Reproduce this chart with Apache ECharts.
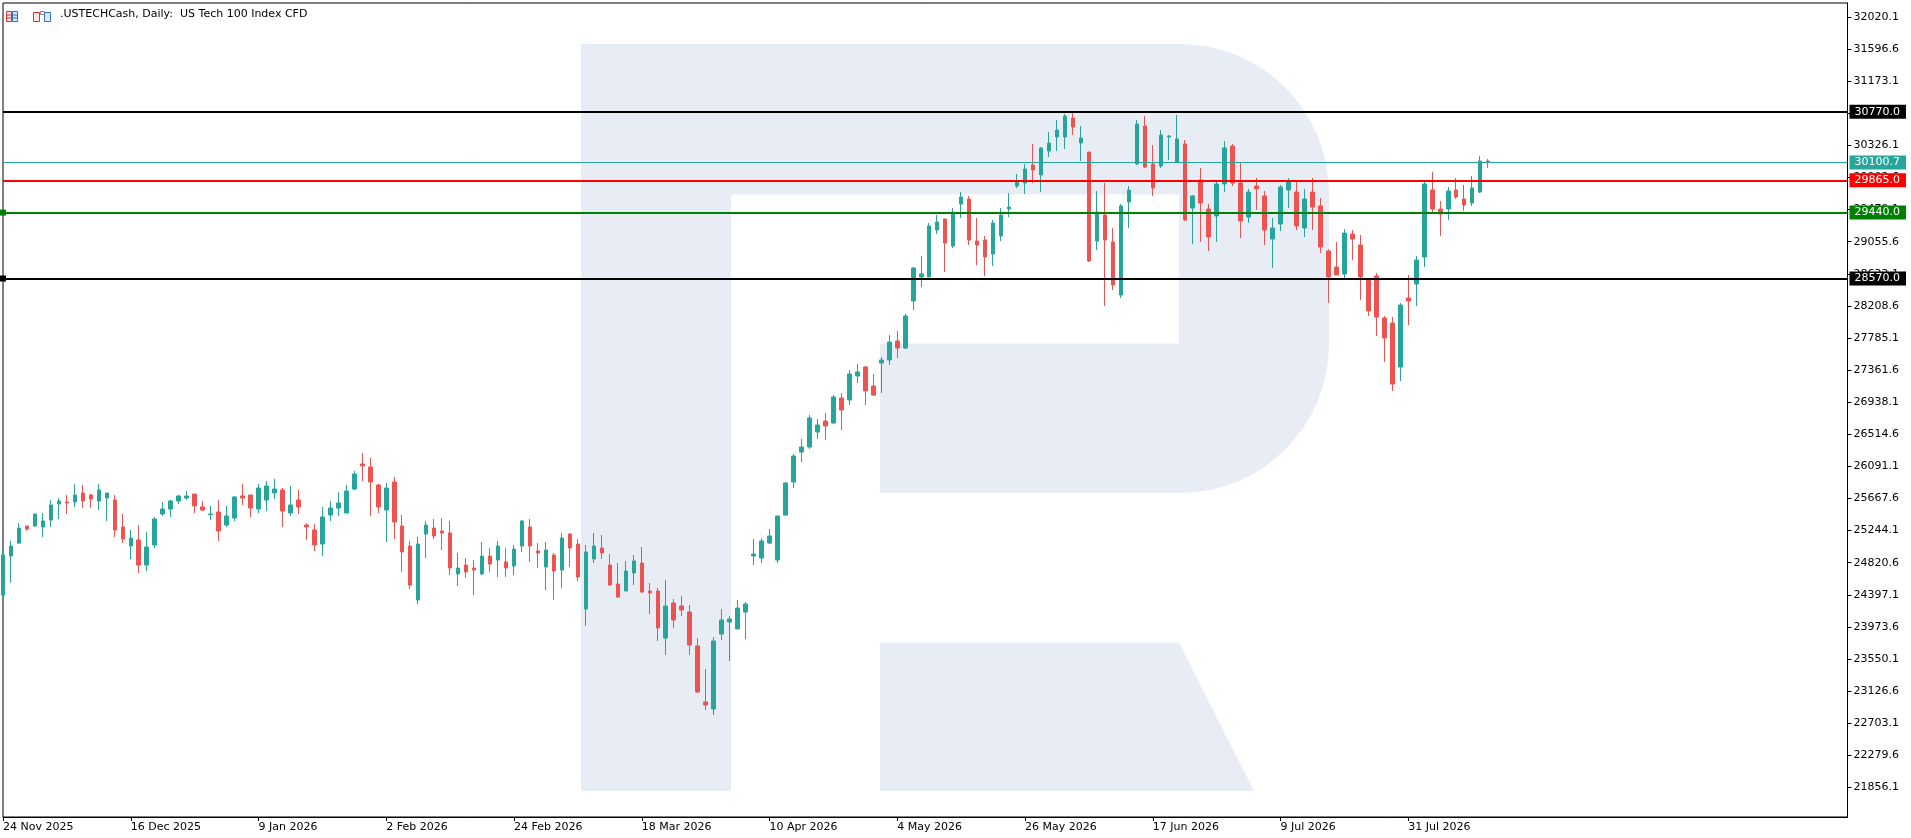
<!DOCTYPE html>
<html><head><meta charset="utf-8">
<script src="https://cdn.jsdelivr.net/npm/echarts@6/dist/echarts.min.js"></script>
<style>html,body{margin:0;padding:0;background:#fff}#c{width:1911px;height:838px}</style>
</head><body><div id="c"></div>
<script>
// ---- data ----
const dateLabels = ['24 Nov 2025','16 Dec 2025','9 Jan 2026','2 Feb 2026','24 Feb 2026','18 Mar 2026','10 Apr 2026','4 May 2026','26 May 2026','17 Jun 2026','9 Jul 2026','31 Jul 2026'];

const opens = [24394,24909,25080,25305,25305,25292,25384,25595,25622,25622,25740,25714,25635,25674,25648,25292,25041,25120,24790,25054,
25463,25529,25635,25674,25727,25556,25454,25490,25318,25410,25701,25714,25529,25648,25740,25780,25476,25648,25318,25252,
25067,25450,25542,25476,25793,26123,26083,25846,25516,25885,25305,25041,24329,25199,25278,25239,25213,24672,24790,24751,
24672,24909,24856,24830,24777,25041,25292,24975,24764,24922,24724,25199,25067,24210,24870,25015,24790,24540,24447,24685,
24817,24447,24447,23827,24289,24249,24170,23722,22983,22890,23880,24038,23946,24170,24909,24882,25080,24856,25450,25885,
26281,26347,26545,26690,26664,26993,26967,27284,27403,27152,27455,27495,27746,27653,28273,28590,28590,29210,29355,28999,
29553,29619,29065,29078,28893,29131,29487,29790,29830,30068,29936,30252,30437,30437,30688,30358,30239,29065,29408,29052,
28352,29579,30081,30582,30081,30054,30437,30107,30345,29500,29870,29487,29395,29817,30318,29830,29381,29790,29659,29091,
29289,29738,29711,29236,29711,29527,28933,28722,28629,29157,29012,28550,28603,28049,27983,27402,28313,28497,28854,29738,
29487,29487,29738,29619,29566,29711,30120];
const closes = [24922,25041,25278,25265,25463,25371,25582,25635,25608,25714,25635,25661,25780,25740,25252,25133,25146,24790,25028,25397,
25529,25635,25701,25701,25569,25516,25463,25239,25437,25688,25674,25542,25806,25833,25793,25503,25582,25556,25292,25054,
25424,25542,25608,25767,25991,26097,25885,25556,25806,25358,24962,24526,25067,25318,25173,25213,24751,24751,24698,24724,
24909,24803,25041,24751,25001,25371,25041,24949,24988,24711,25146,25014,24632,24962,25041,24949,24526,24368,24711,24843,
24434,24421,23959,24249,24065,24197,23735,23115,22943,23788,24065,24078,24223,24276,24935,25107,25173,25437,25872,26228,
26347,26730,26637,26624,27007,26835,27310,27337,27086,27033,27495,27732,27653,28075,28709,28630,29263,29315,29038,29447,
29645,29078,29012,28854,29302,29408,29513,29856,30015,30002,30292,30358,30529,30714,30569,30424,28801,29447,29078,28484,
29527,29738,30608,30041,29764,30463,30450,30411,29342,29659,29566,29118,29817,30292,29830,29329,29711,29751,29210,29236,
29777,29856,29263,29619,29513,28986,28590,28616,29170,29091,28590,28141,28062,27785,27178,28220,28273,28814,29817,29487,
29421,29724,29645,29540,29764,30120,30100.7];
const lows = [24360,24557,25067,25243,25292,25160,25292,25397,25463,25556,25542,25542,25516,25371,25160,25080,24869,24685,24711,25014,
25437,25424,25595,25648,25476,25503,25384,25107,25292,25371,25582,25424,25476,25503,25661,25292,25437,25463,25120,24975,
24909,25371,25437,25476,25780,25899,25437,25476,25094,25133,24698,24474,24276,24883,25133,24988,24658,24513,24619,24394,
24658,24698,24632,24632,24658,24962,24830,24751,24460,24329,24487,24764,24579,23986,24817,24870,24513,24355,24447,24526,
24421,24144,23788,23603,23959,24117,23603,23102,22877,22811,23801,23524,23946,23814,24790,24816,25067,24816,25437,25806,
26149,26321,26453,26439,26650,26571,26901,27191,26901,27020,27059,27429,27521,27640,28155,28458,28590,29157,28656,28972,
29368,29012,28748,28603,28735,29065,29381,29764,29685,29830,29711,30173,30252,30279,30463,30120,28788,28946,28207,28418,
28313,29236,30068,30028,29659,30028,30134,30107,29329,29025,29052,28933,29052,29711,29790,29104,29302,29474,29012,28709,
29197,29500,29210,29118,29210,28906,28247,28616,28550,28814,28286,28075,27811,27468,27086,27218,27956,28207,28722,29421,
29131,29342,29619,29461,29527,29698,30028];
const highs = [24980,25111,25344,25305,25463,25476,25648,25674,25714,25859,25846,25727,25859,25740,25714,25463,25252,25318,25226,25424,
25622,25648,25714,25767,25727,25635,25569,25648,25569,25701,25859,25714,25859,25899,25925,25806,25833,25780,25344,25331,
25556,25635,25753,25846,26031,26268,26202,25859,25872,25951,25450,25107,25160,25371,25397,25410,25371,24949,24883,24856,
25094,25014,25107,25014,25054,25384,25397,25080,25094,24949,25213,25213,25133,25054,25213,25186,24935,24817,24843,24922,
25028,24553,24487,24592,24342,24381,24263,23827,23418,23840,24210,24117,24329,24302,25133,25146,25265,25437,25885,26255,
26453,26769,26716,26796,27033,27059,27363,27442,27416,27310,27534,27825,27877,28102,28722,28867,29302,29408,29355,29500,
29711,29659,29368,29131,29342,29500,29698,29949,30081,30345,30305,30503,30661,30740,30767,30582,30239,29724,29830,29236,
29553,29790,30661,30714,30331,30529,30463,30727,30397,29672,30028,29553,29856,30384,30345,30107,29751,29896,29724,29368,
29804,29896,29870,29751,29896,29632,28959,29052,29223,29210,29144,28563,28643,28075,28062,28247,28616,28867,29856,29975,
29593,29777,29896,29804,29922,30186,30147];

const yTicks = [32020.1,31596.6,31173.1,30749.6,30326.1,29902.6,29479.1,29055.6,28632.1,28208.6,27785.1,27361.6,26938.1,
26514.6,26091.1,25667.6,25244.1,24820.6,24397.1,23973.6,23550.1,23126.6,22703.1,22279.6,21856.1];
const levelValues = [30770, 29865, 29440, 28570];

// ---- chart ----
const FONT = 'DejaVu Sans';
const UP = '#26a69a', DOWN = '#ef5350';
const WM = '#e8edf5';
const n = opens.length;
const padCount = 45;
const categories = [];
for (let i = 0; i < n + padCount; i++) categories.push(i % 16 === 0 && i < n ? dateLabels[i / 16] : '');
const candleData = opens.map((o, i) => [o, closes[i], lows[i], highs[i]]);
const lastPrice = closes[n - 1];
const showIdx = (i) => i % 16 === 0 && i < n;

function lbl(bg) {
  return {
    show: true, position: 'end', distance: 2,
    formatter: (p) => Number(p.value).toFixed(1),
    color: '#ffffff', backgroundColor: bg, padding: [1, 6, 1, 5],
    fontFamily: FONT, fontSize: 11, lineHeight: 12
  };
}

const chart = echarts.init(document.getElementById('c'));
chart.setOption({
  animation: false,
  backgroundColor: '#ffffff',
  grid: { left: 0.5, right: 63.5, top: 3, bottom: 21, show: true, borderColor: '#000', borderWidth: 1, backgroundColor: 'transparent' },
  xAxis: {
    type: 'category', data: categories, boundaryGap: false,
    axisLine: { show: true, lineStyle: { color: '#000', width: 1 } },
    axisTick: { show: true, length: 4, interval: showIdx, lineStyle: { color: '#000' } },
    axisLabel: { interval: showIdx, align: 'left', margin: 5, color: '#000', fontFamily: FONT, fontSize: 11 },
    splitLine: { show: false }
  },
  yAxis: {
    type: 'value', position: 'right', min: 21465.7, max: 32204.8, scale: true,
    axisLine: { show: true, lineStyle: { color: '#000', width: 1 } },
    axisTick: { show: true, length: 4, customValues: yTicks, lineStyle: { color: '#000' } },
    axisLabel: { customValues: yTicks, formatter: (v) => Number(v).toFixed(1), color: '#000', fontFamily: FONT, fontSize: 11, margin: 6 },
    splitLine: { show: false }
  },
  graphic: [
    // watermark logo
    { type: 'rect', z: -10, silent: true, shape: { x: 581, y: 44, width: 748, height: 449, r: [0, 149, 149, 0] }, style: { fill: WM } },
    { type: 'rect', z: -10, silent: true, shape: { x: 581, y: 490, width: 150, height: 301 }, style: { fill: WM } },
    { type: 'rect', z: -9, silent: true, shape: { x: 731, y: 194.5, width: 448, height: 149 }, style: { fill: '#ffffff' } },
    { type: 'rect', z: -9, silent: true, shape: { x: 731, y: 343, width: 149, height: 151 }, style: { fill: '#ffffff' } },
    { type: 'polygon', z: -10, silent: true, shape: { points: [[880, 642.4], [1179, 642.4], [1254, 791], [880, 791]] }, style: { fill: WM } },
    // header icons
    { type: 'rect', z: 10, shape: { x: 6.5, y: 11.5, width: 5, height: 10 }, style: { fill: '#fde3e3', stroke: '#e0302f', lineWidth: 1 } },
    { type: 'rect', z: 10, shape: { x: 12.5, y: 11.5, width: 5, height: 10 }, style: { fill: '#dde8f8', stroke: '#2f6fd0', lineWidth: 1 } },
    { type: 'line', z: 11, shape: { x1: 7, y1: 15, x2: 11, y2: 15 }, style: { stroke: '#e0302f', lineWidth: 1 } },
    { type: 'line', z: 11, shape: { x1: 7, y1: 18, x2: 11, y2: 18 }, style: { stroke: '#e0302f', lineWidth: 1 } },
    { type: 'line', z: 11, shape: { x1: 13, y1: 15, x2: 17, y2: 15 }, style: { stroke: '#2f6fd0', lineWidth: 1 } },
    { type: 'line', z: 11, shape: { x1: 13, y1: 18, x2: 17, y2: 18 }, style: { stroke: '#2f6fd0', lineWidth: 1 } },
    { type: 'rect', z: 10, shape: { x: 33.5, y: 12.5, width: 6, height: 9 }, style: { fill: '#fde3e3', stroke: '#e0302f', lineWidth: 1 } },
    { type: 'rect', z: 10, shape: { x: 40.5, y: 11.5, width: 4, height: 3 }, style: { fill: '#ffffff', stroke: '#888', lineWidth: 1 } },
    { type: 'rect', z: 10, shape: { x: 44.5, y: 12.5, width: 6, height: 9 }, style: { fill: '#dde8f8', stroke: '#2f6fd0', lineWidth: 1 } },
    { type: 'text', z: 10, left: 60, top: 9, style: { text: '.USTECHCash, Daily:  US Tech 100 Index CFD', fill: '#000', font: '11px "DejaVu Sans"' } }
  ],
  series: [{
    type: 'candlestick',
    data: candleData,
    barWidth: 4,
    clip: false,
    itemStyle: { color: UP, color0: DOWN, borderColor: UP, borderColor0: DOWN, borderWidth: 1 },
    markLine: {
      silent: true, animation: false, symbol: 'none',
      emphasis: { disabled: true },
      data: [
        { yAxis: levelValues[0], lineStyle: { color: '#000000', width: 2, type: 'solid' }, label: lbl('#000000') },
        { yAxis: lastPrice, lineStyle: { color: UP, width: 1, type: 'solid' }, label: lbl(UP) },
        { yAxis: levelValues[1], lineStyle: { color: '#ff0000', width: 2, type: 'solid' }, label: lbl('#ff0000') },
        { yAxis: levelValues[2], symbol: ['rect', 'rect'], symbolSize: 6, lineStyle: { color: '#008000', width: 2, type: 'solid' }, label: lbl('#008000') },
        { yAxis: levelValues[3], symbol: ['rect', 'rect'], symbolSize: 6, lineStyle: { color: '#000000', width: 2, type: 'solid' }, label: lbl('#000000') }
      ]
    }
  }]
});
</script></body></html>
